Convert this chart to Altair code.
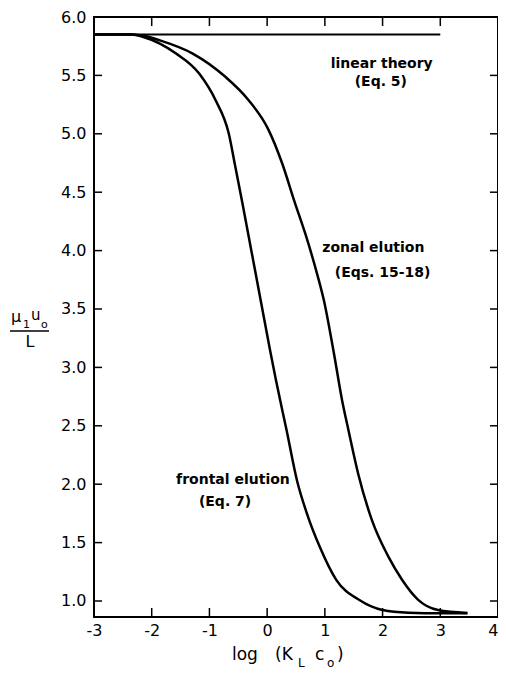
import altair as alt
import pandas as pd

# ---- data ----
x_ticks = [-3, -2, -1, 0, 1, 2, 3, 4]
y_ticks = [1.0, 1.5, 2.0, 2.5, 3.0, 3.5, 4.0, 4.5, 5.0, 5.5, 6.0]

linear_x = [-3.0, 3.0]
linear_y = [5.85, 5.85]

frontal_x = [-3.0, -2.35, -2.146, -1.578, -1.178, -0.895, -0.666, -0.552,
             -0.434, -0.272, -0.109, 0.053, 0.155, 0.338, 0.517, 0.688,
             0.915, 1.20, 1.598, 1.997, 2.45, 3.02, 3.47]
frontal_y = [5.85, 5.85, 5.829, 5.687, 5.516, 5.289, 5.004, 4.72,
             4.42, 3.995, 3.567, 3.14, 2.886, 2.459, 2.032, 1.751,
             1.46, 1.179, 1.008, 0.923, 0.90, 0.895, 0.895]

zonal_x = [-3.0, -2.35, -2.1, -1.86, -1.29, -0.724, -0.325, 0.022, 0.261,
           0.474, 0.664, 0.838, 0.985, 1.15, 1.30, 1.41, 1.577, 1.817,
           2.105, 2.34, 2.617, 2.96, 3.47]
zonal_y = [5.85, 5.85, 5.835, 5.80, 5.687, 5.488, 5.29, 5.036, 4.746,
           4.42, 4.14, 3.85, 3.57, 3.14, 2.715, 2.46, 2.09, 1.69,
           1.375, 1.18, 1.01, 0.923, 0.898]

ann_text = ["linear theory", "(Eq. 5)", "zonal elution", "(Eqs. 15-18)",
            "frontal elution", "(Eq. 7)"]
ann_x = [1.985, 1.97, 1.84, 2.0, -0.593, -0.729]
ann_y = [5.60, 5.445, 4.02, 3.81, 2.032, 1.847]

X_DOMAIN = [-3, 4]
Y_DOMAIN = [0.863, 6.0]
W, H = 404, 600

xs = alt.Scale(domain=X_DOMAIN, nice=False, zero=False)
ys = alt.Scale(domain=Y_DOMAIN, nice=False, zero=False)
X_AXIS = alt.Axis(values=x_ticks, title=None, labelExpr="datum.value",
                  labelAlign=alt.ExprRef(expr="datum.value == 4 ? 'right' : 'center'"),
                  labelPadding=5, labelFlush=False, labelOverlap=False)
Y_AXIS = alt.Axis(values=y_ticks, title=None, format=".1f",
                  labelPadding=8, labelFlush=False, labelOverlap=False)


def X(field):
    return alt.X(field, scale=xs, axis=X_AXIS)


def Y(field):
    return alt.Y(field, scale=ys, axis=Y_AXIS)


curves = pd.DataFrame(
    {"x": frontal_x + zonal_x,
     "y": frontal_y + zonal_y,
     "series": ["frontal"] * len(frontal_x) + ["zonal"] * len(zonal_x)}
)
lin = pd.DataFrame({"x": linear_x, "y": linear_y})
ann = pd.DataFrame({"x": ann_x, "y": ann_y, "t": ann_text})
xt = pd.DataFrame({"x": x_ticks[1:-1]})
yt = pd.DataFrame({"y": y_ticks[:-1]})
one = pd.DataFrame({"k": [0]})

curve_layer = alt.Chart(curves).mark_line(
    color="black", strokeWidth=2.5, interpolate="monotone"
).encode(x=X("x:Q"), y=Y("y:Q"), detail="series:N")

lin_layer = alt.Chart(lin).mark_line(color="black", strokeWidth=2).encode(
    x=X("x:Q"), y=Y("y:Q"))

ann_layer = alt.Chart(ann).mark_text(
    font="DejaVu Sans", fontSize=14, fontWeight="bold", color="black",
    align="center", baseline="middle"
).encode(x=X("x:Q"), y=Y("y:Q"), text="t:N")

# inward ticks on all four sides
top_ticks = alt.Chart(xt).mark_rule(color="black", strokeWidth=1.5).encode(
    x=X("x:Q"), y=alt.value(0), y2=alt.value(9))
bot_ticks = alt.Chart(xt).mark_rule(color="black", strokeWidth=1.5).encode(
    x=X("x:Q"), y=alt.value(H - 9), y2=alt.value(H))
left_ticks = alt.Chart(yt).mark_rule(color="black", strokeWidth=1.5).encode(
    y=Y("y:Q"), x=alt.value(0), x2=alt.value(8))
right_ticks = alt.Chart(yt).mark_rule(color="black", strokeWidth=1.5).encode(
    y=Y("y:Q"), x=alt.value(W - 8), x2=alt.value(W))


def label(text, x, y, size=16, align="left"):
    return alt.Chart(one).mark_text(
        text=text, font="DejaVu Sans", fontSize=size, color="black",
        align=align, baseline="alphabetic"
    ).encode(x=alt.value(x), y=alt.value(y))


# y-axis title as a fraction: mu_1 u_o / L
y_n1 = label("μ", -83, 305, size=16)
y_n2 = label("1", -71, 311, size=11)
y_n3 = label("u", -63, 303, size=15)
y_n4 = label("o", -53, 311, size=11)
y_bar = alt.Chart(one).mark_rule(color="black", strokeWidth=1.5).encode(
    x=alt.value(-84), x2=alt.value(-45), y=alt.value(314))
y_den = label("L", -64, 330, size=16, align="center")

# x-axis title: log (K_L c_o)
x_t1 = label("log", 138, 643, size=17)
x_t2 = label("(K", 181, 643, size=17)
x_t3 = label("L", 204, 650, size=12)
x_t4 = label("c", 221, 643, size=17)
x_t5 = label("o", 233, 650, size=12)
x_t6 = label(")", 243, 643, size=17)

chart = alt.layer(
    curve_layer, lin_layer, ann_layer,
    top_ticks, bot_ticks, left_ticks, right_ticks,
    y_n1, y_n2, y_n3, y_n4, y_bar, y_den,
    x_t1, x_t2, x_t3, x_t4, x_t5, x_t6,
).properties(
    width=W, height=H,
    autosize=alt.AutoSizeParams(type="none"),
    padding={"left": 86, "top": 9, "right": 0, "bottom": 52},
    background="white",
).configure_view(
    stroke="black", strokeWidth=2
).configure_axis(
    grid=False, domain=False, ticks=False,
    labelFont="DejaVu Sans", labelFontSize=16, labelColor="black",
)

chart.save("out.html", embed_options={"renderer": "svg", "actions": False})
